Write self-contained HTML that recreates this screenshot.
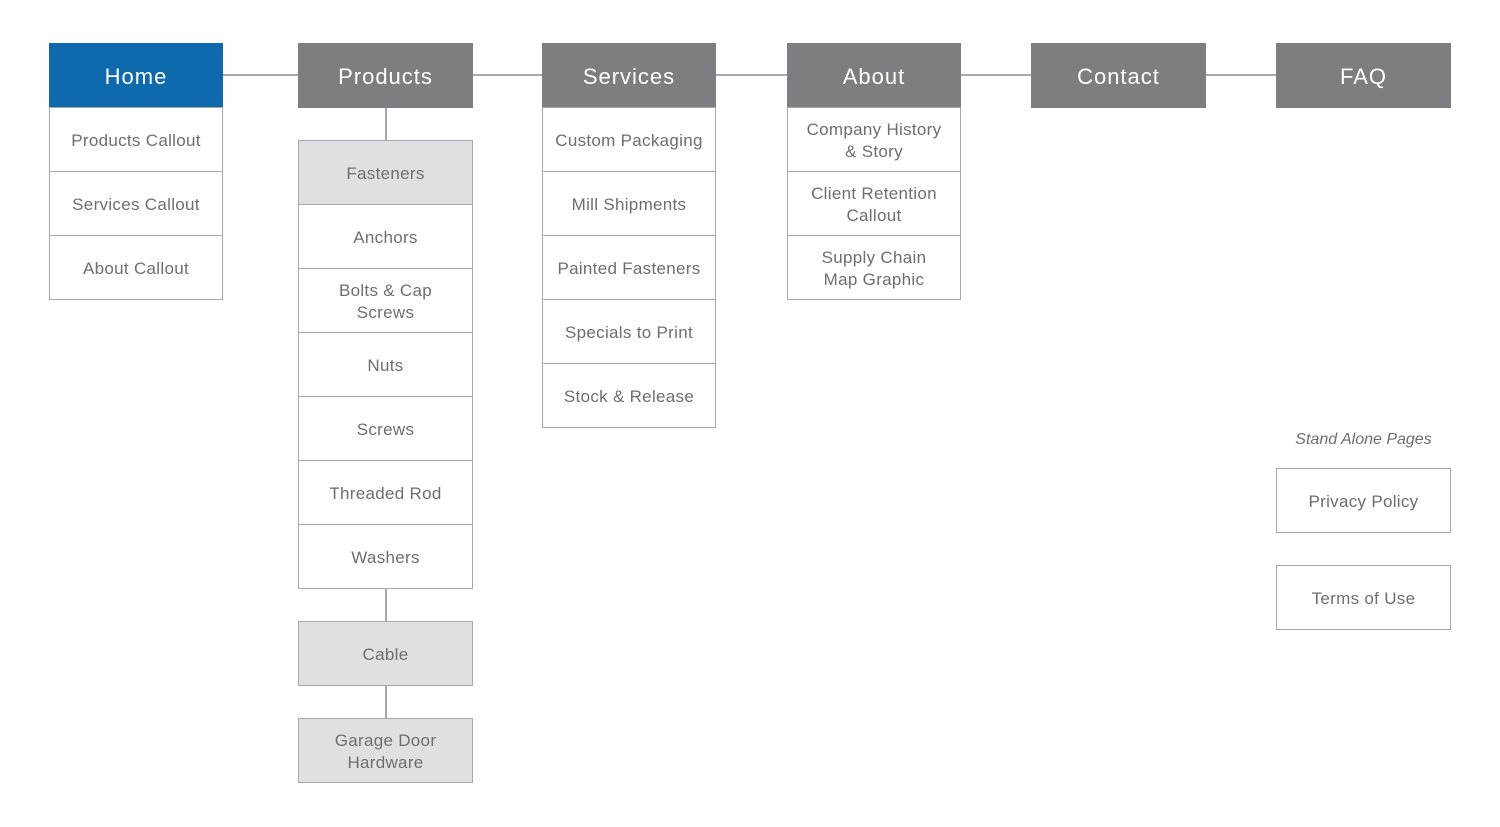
<!DOCTYPE html>
<html><head><style>
body{margin:0;width:1500px;height:827px;background:#fff;position:relative;overflow:hidden;font-family:"Liberation Sans",sans-serif}
.b{position:absolute;box-sizing:border-box;border:1.5px solid #a7a8ab;background:#fff;color:#6d6e71;font-size:17px;display:flex;align-items:center;justify-content:center;text-align:center;line-height:22px;letter-spacing:0.3px;padding-top:2px}
.h{background:#7d7e82;border-color:#7d7e82;color:#fff;font-size:22px;letter-spacing:1px}
.blue{background:#0e6aad;border-color:#0e6aad}
.l{background:#dfe0e2}
.ln{position:absolute;background:#a7a8ab}
</style></head><body>
<div class="ln" style="left:222px;top:74px;width:1054px;height:1.5px"></div>
<div class="ln" style="left:385px;top:107px;width:1.5px;height:34px"></div>
<div class="ln" style="left:385px;top:588px;width:1.5px;height:34px"></div>
<div class="ln" style="left:385px;top:685px;width:1.5px;height:34px"></div>

<div class="b h blue" style="left:49px;top:43px;width:174px;height:65px">Home</div>
<div class="b" style="left:49px;top:107px;width:174px;height:65px">Products Callout</div>
<div class="b" style="left:49px;top:171px;width:174px;height:65px">Services Callout</div>
<div class="b" style="left:49px;top:235px;width:174px;height:65px">About Callout</div>

<div class="b h" style="left:298px;top:43px;width:175px;height:65px">Products</div>
<div class="b l" style="left:298px;top:140px;width:175px;height:65px">Fasteners</div>
<div class="b" style="left:298px;top:204px;width:175px;height:65px">Anchors</div>
<div class="b" style="left:298px;top:268px;width:175px;height:65px">Bolts &amp; Cap<br>Screws</div>
<div class="b" style="left:298px;top:332px;width:175px;height:65px">Nuts</div>
<div class="b" style="left:298px;top:396px;width:175px;height:65px">Screws</div>
<div class="b" style="left:298px;top:460px;width:175px;height:65px">Threaded Rod</div>
<div class="b" style="left:298px;top:524px;width:175px;height:65px">Washers</div>
<div class="b l" style="left:298px;top:621px;width:175px;height:65px">Cable</div>
<div class="b l" style="left:298px;top:718px;width:175px;height:65px">Garage Door<br>Hardware</div>

<div class="b h" style="left:542px;top:43px;width:174px;height:65px">Services</div>
<div class="b" style="left:542px;top:107px;width:174px;height:65px">Custom Packaging</div>
<div class="b" style="left:542px;top:171px;width:174px;height:65px">Mill Shipments</div>
<div class="b" style="left:542px;top:235px;width:174px;height:65px">Painted Fasteners</div>
<div class="b" style="left:542px;top:299px;width:174px;height:65px">Specials to Print</div>
<div class="b" style="left:542px;top:363px;width:174px;height:65px">Stock &amp; Release</div>

<div class="b h" style="left:787px;top:43px;width:174px;height:65px">About</div>
<div class="b" style="left:787px;top:107px;width:174px;height:65px">Company History<br>&amp; Story</div>
<div class="b" style="left:787px;top:171px;width:174px;height:65px">Client Retention<br>Callout</div>
<div class="b" style="left:787px;top:235px;width:174px;height:65px">Supply Chain<br>Map Graphic</div>

<div class="b h" style="left:1031px;top:43px;width:175px;height:65px">Contact</div>
<div class="b h" style="left:1276px;top:43px;width:175px;height:65px">FAQ</div>

<div style="position:absolute;left:1276px;top:431px;width:175px;text-align:center;font-style:italic;font-size:16px;color:#6d6e71">Stand Alone Pages</div>
<div class="b" style="left:1276px;top:468px;width:175px;height:65px">Privacy Policy</div>
<div class="b" style="left:1276px;top:565px;width:175px;height:65px">Terms of Use</div>
</body></html>
